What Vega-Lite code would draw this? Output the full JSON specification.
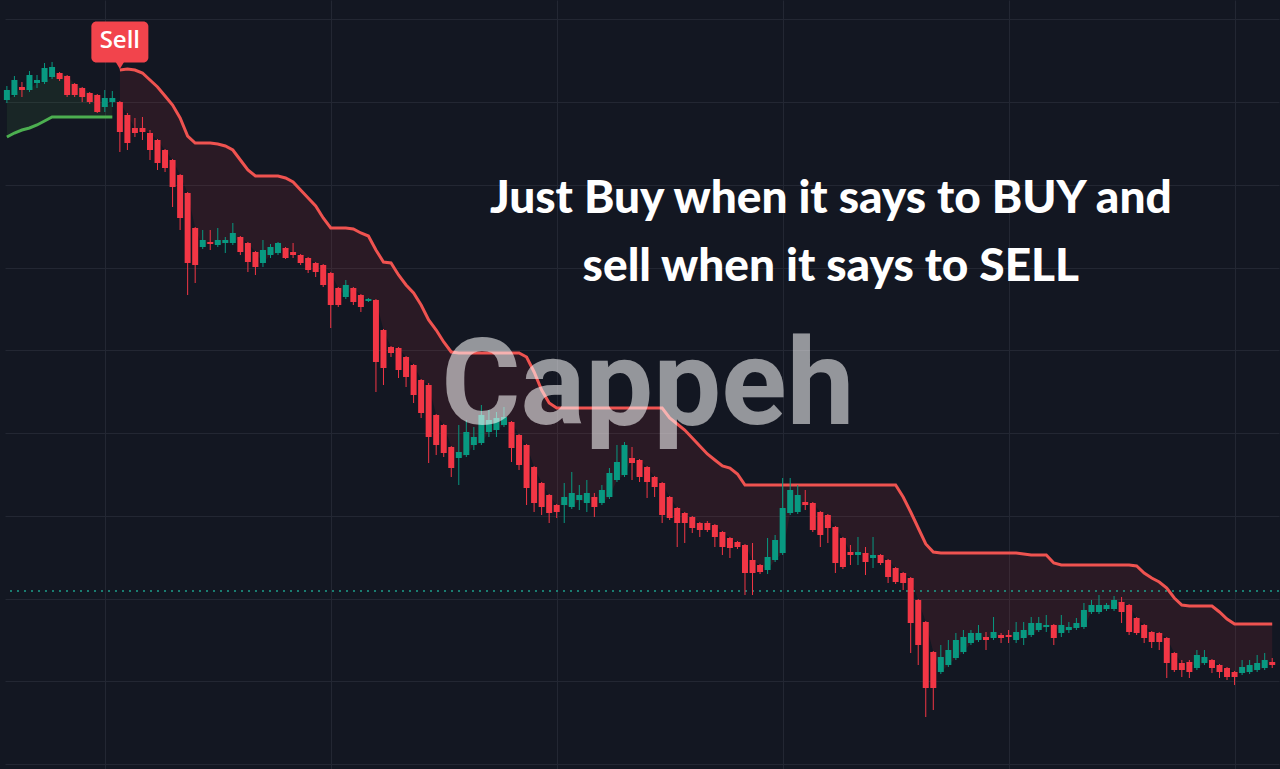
{
"$schema":"https://vega.github.io/schema/vega-lite/v6.json",
"width":1280,"height":769,"autosize":{"type":"fit","contains":"padding"},"padding":0,
"background":"#131722",
"config":{"view":{"stroke":null},"axis":{"minExtent":0,"maxExtent":0,"offset":0,"labels":false,"ticks":false,"domain":false,"title":null,"grid":true,"gridColor":"#232733","gridWidth":1}},
"datasets":{
"candles":[
{"t":0,"o":669,"h":683,"l":666,"c":679,"st":632,"trend":"up"},
{"t":1,"o":674,"h":693,"l":672,"c":689,"st":636,"trend":"up"},
{"t":2,"o":682,"h":687,"l":672,"c":679,"st":639,"trend":"up"},
{"t":3,"o":679,"h":698,"l":677,"c":694,"st":641,"trend":"up"},
{"t":4,"o":686,"h":694,"l":681,"c":689,"st":644,"trend":"up"},
{"t":5,"o":687,"h":706,"l":685,"c":701,"st":648,"trend":"up"},
{"t":6,"o":692,"h":707,"l":690,"c":702,"st":652,"trend":"up"},
{"t":7,"o":696,"h":697,"l":688,"c":690,"st":652,"trend":"up"},
{"t":8,"o":693,"h":694,"l":672,"c":674,"st":652,"trend":"up"},
{"t":9,"o":685,"h":686,"l":672,"c":674,"st":652,"trend":"up"},
{"t":10,"o":681,"h":682,"l":667,"c":672,"st":652,"trend":"up"},
{"t":11,"o":676,"h":677,"l":665,"c":667,"st":652,"trend":"up"},
{"t":12,"o":674,"h":675,"l":656,"c":657,"st":652,"trend":"up"},
{"t":13,"o":662,"h":679,"l":657,"c":671,"st":652,"trend":"up"},
{"t":14,"o":667,"h":678,"l":662,"c":671,"st":652,"trend":"up"},
{"t":15,"o":667,"h":668,"l":617,"c":637,"st":699,"trend":"down"},
{"t":16,"o":654,"h":656,"l":619,"c":626,"st":700,"trend":"down"},
{"t":17,"o":641,"h":651,"l":632,"c":636,"st":699,"trend":"down"},
{"t":18,"o":641,"h":652,"l":629,"c":637,"st":696,"trend":"down"},
{"t":19,"o":636,"h":639,"l":609,"c":619,"st":689,"trend":"down"},
{"t":20,"o":629,"h":630,"l":599,"c":606,"st":682,"trend":"down"},
{"t":21,"o":619,"h":620,"l":597,"c":601,"st":673,"trend":"down"},
{"t":22,"o":609,"h":610,"l":562,"c":582,"st":664,"trend":"down"},
{"t":23,"o":594,"h":595,"l":539,"c":551,"st":651,"trend":"down"},
{"t":24,"o":576,"h":577,"l":474,"c":506,"st":633,"trend":"down"},
{"t":25,"o":541,"h":542,"l":486,"c":504,"st":626,"trend":"down"},
{"t":26,"o":522,"h":539,"l":520,"c":529,"st":626,"trend":"down"},
{"t":27,"o":527,"h":539,"l":519,"c":525,"st":626,"trend":"down"},
{"t":28,"o":524,"h":541,"l":522,"c":529,"st":625,"trend":"down"},
{"t":29,"o":526,"h":532,"l":516,"c":529,"st":623,"trend":"down"},
{"t":30,"o":526,"h":546,"l":524,"c":536,"st":619,"trend":"down"},
{"t":31,"o":532,"h":533,"l":514,"c":517,"st":609,"trend":"down"},
{"t":32,"o":526,"h":527,"l":497,"c":507,"st":599,"trend":"down"},
{"t":33,"o":517,"h":518,"l":494,"c":502,"st":593,"trend":"down"},
{"t":34,"o":506,"h":529,"l":502,"c":519,"st":593,"trend":"down"},
{"t":35,"o":514,"h":525,"l":511,"c":522,"st":593,"trend":"down"},
{"t":36,"o":516,"h":527,"l":514,"c":526,"st":593,"trend":"down"},
{"t":37,"o":521,"h":522,"l":510,"c":511,"st":591,"trend":"down"},
{"t":38,"o":517,"h":526,"l":511,"c":514,"st":587,"trend":"down"},
{"t":39,"o":514,"h":515,"l":504,"c":506,"st":579,"trend":"down"},
{"t":40,"o":511,"h":512,"l":496,"c":499,"st":571,"trend":"down"},
{"t":41,"o":506,"h":507,"l":492,"c":497,"st":563,"trend":"down"},
{"t":42,"o":504,"h":505,"l":482,"c":484,"st":551,"trend":"down"},
{"t":43,"o":496,"h":497,"l":441,"c":464,"st":541,"trend":"down"},
{"t":44,"o":481,"h":482,"l":462,"c":464,"st":541,"trend":"down"},
{"t":45,"o":472,"h":489,"l":470,"c":484,"st":541,"trend":"down"},
{"t":46,"o":481,"h":482,"l":464,"c":467,"st":540,"trend":"down"},
{"t":47,"o":474,"h":475,"l":457,"c":462,"st":536,"trend":"down"},
{"t":48,"o":468,"h":471,"l":467,"c":470,"st":533,"trend":"down"},
{"t":49,"o":469,"h":470,"l":377,"c":407,"st":519,"trend":"down"},
{"t":50,"o":439,"h":440,"l":384,"c":401,"st":507,"trend":"down"},
{"t":51,"o":422,"h":423,"l":412,"c":416,"st":506,"trend":"down"},
{"t":52,"o":421,"h":422,"l":391,"c":399,"st":494,"trend":"down"},
{"t":53,"o":412,"h":413,"l":382,"c":392,"st":484,"trend":"down"},
{"t":54,"o":404,"h":405,"l":366,"c":374,"st":476,"trend":"down"},
{"t":55,"o":389,"h":390,"l":351,"c":356,"st":464,"trend":"down"},
{"t":56,"o":384,"h":386,"l":306,"c":332,"st":449,"trend":"down"},
{"t":57,"o":354,"h":355,"l":314,"c":324,"st":439,"trend":"down"},
{"t":58,"o":344,"h":345,"l":312,"c":316,"st":427,"trend":"down"},
{"t":59,"o":322,"h":323,"l":292,"c":301,"st":417,"trend":"down"},
{"t":60,"o":311,"h":344,"l":284,"c":317,"st":416,"trend":"down"},
{"t":61,"o":314,"h":349,"l":312,"c":337,"st":416,"trend":"down"},
{"t":62,"o":324,"h":342,"l":319,"c":332,"st":416,"trend":"down"},
{"t":63,"o":326,"h":364,"l":324,"c":354,"st":416,"trend":"down"},
{"t":64,"o":337,"h":359,"l":332,"c":349,"st":416,"trend":"down"},
{"t":65,"o":339,"h":357,"l":332,"c":351,"st":416,"trend":"down"},
{"t":66,"o":344,"h":362,"l":342,"c":352,"st":416,"trend":"down"},
{"t":67,"o":347,"h":348,"l":307,"c":321,"st":416,"trend":"down"},
{"t":68,"o":334,"h":335,"l":299,"c":304,"st":416,"trend":"down"},
{"t":69,"o":324,"h":325,"l":264,"c":281,"st":412,"trend":"down"},
{"t":70,"o":302,"h":303,"l":257,"c":266,"st":397,"trend":"down"},
{"t":71,"o":286,"h":287,"l":254,"c":262,"st":379,"trend":"down"},
{"t":72,"o":274,"h":275,"l":246,"c":256,"st":366,"trend":"down"},
{"t":73,"o":264,"h":265,"l":251,"c":257,"st":361,"trend":"down"},
{"t":74,"o":264,"h":286,"l":246,"c":272,"st":361,"trend":"down"},
{"t":75,"o":262,"h":297,"l":260,"c":276,"st":361,"trend":"down"},
{"t":76,"o":269,"h":284,"l":259,"c":274,"st":361,"trend":"down"},
{"t":77,"o":266,"h":289,"l":257,"c":276,"st":361,"trend":"down"},
{"t":78,"o":272,"h":276,"l":252,"c":262,"st":361,"trend":"down"},
{"t":79,"o":266,"h":284,"l":264,"c":279,"st":361,"trend":"down"},
{"t":80,"o":272,"h":301,"l":270,"c":296,"st":361,"trend":"down"},
{"t":81,"o":289,"h":324,"l":287,"c":307,"st":361,"trend":"down"},
{"t":82,"o":294,"h":327,"l":292,"c":324,"st":361,"trend":"down"},
{"t":83,"o":311,"h":322,"l":289,"c":306,"st":361,"trend":"down"},
{"t":84,"o":309,"h":310,"l":287,"c":292,"st":361,"trend":"down"},
{"t":85,"o":302,"h":303,"l":271,"c":287,"st":361,"trend":"down"},
{"t":86,"o":292,"h":293,"l":272,"c":282,"st":361,"trend":"down"},
{"t":87,"o":286,"h":287,"l":246,"c":254,"st":361,"trend":"down"},
{"t":88,"o":272,"h":273,"l":249,"c":251,"st":351,"trend":"down"},
{"t":89,"o":261,"h":262,"l":222,"c":246,"st":345,"trend":"down"},
{"t":90,"o":256,"h":257,"l":226,"c":246,"st":339,"trend":"down"},
{"t":91,"o":252,"h":253,"l":236,"c":241,"st":331,"trend":"down"},
{"t":92,"o":246,"h":247,"l":232,"c":239,"st":323,"trend":"down"},
{"t":93,"o":246,"h":248,"l":237,"c":239,"st":315,"trend":"down"},
{"t":94,"o":244,"h":245,"l":222,"c":232,"st":309,"trend":"down"},
{"t":95,"o":237,"h":238,"l":214,"c":222,"st":303,"trend":"down"},
{"t":96,"o":231,"h":232,"l":211,"c":221,"st":301,"trend":"down"},
{"t":97,"o":227,"h":228,"l":220,"c":222,"st":295,"trend":"down"},
{"t":98,"o":224,"h":225,"l":174,"c":196,"st":284,"trend":"down"},
{"t":99,"o":209,"h":226,"l":174,"c":196,"st":284,"trend":"down"},
{"t":100,"o":204,"h":205,"l":195,"c":197,"st":284,"trend":"down"},
{"t":101,"o":199,"h":231,"l":195,"c":212,"st":284,"trend":"down"},
{"t":102,"o":209,"h":234,"l":207,"c":229,"st":284,"trend":"down"},
{"t":103,"o":216,"h":291,"l":214,"c":261,"st":284,"trend":"down"},
{"t":104,"o":256,"h":291,"l":254,"c":279,"st":284,"trend":"down"},
{"t":105,"o":257,"h":284,"l":255,"c":274,"st":284,"trend":"down"},
{"t":106,"o":267,"h":279,"l":259,"c":264,"st":284,"trend":"down"},
{"t":107,"o":266,"h":267,"l":237,"c":239,"st":284,"trend":"down"},
{"t":108,"o":257,"h":258,"l":222,"c":234,"st":284,"trend":"down"},
{"t":109,"o":254,"h":255,"l":226,"c":241,"st":284,"trend":"down"},
{"t":110,"o":242,"h":243,"l":196,"c":206,"st":284,"trend":"down"},
{"t":111,"o":231,"h":232,"l":200,"c":202,"st":284,"trend":"down"},
{"t":112,"o":217,"h":224,"l":204,"c":214,"st":284,"trend":"down"},
{"t":113,"o":214,"h":232,"l":204,"c":217,"st":284,"trend":"down"},
{"t":114,"o":216,"h":222,"l":194,"c":207,"st":284,"trend":"down"},
{"t":115,"o":211,"h":232,"l":201,"c":214,"st":284,"trend":"down"},
{"t":116,"o":214,"h":215,"l":204,"c":206,"st":284,"trend":"down"},
{"t":117,"o":209,"h":210,"l":186,"c":192,"st":284,"trend":"down"},
{"t":118,"o":201,"h":202,"l":185,"c":187,"st":284,"trend":"down"},
{"t":119,"o":196,"h":197,"l":179,"c":186,"st":272,"trend":"down"},
{"t":120,"o":191,"h":192,"l":116,"c":146,"st":257,"trend":"down"},
{"t":121,"o":169,"h":170,"l":104,"c":124,"st":241,"trend":"down"},
{"t":122,"o":147,"h":148,"l":52,"c":81,"st":225,"trend":"down"},
{"t":123,"o":117,"h":118,"l":59,"c":81,"st":217,"trend":"down"},
{"t":124,"o":97,"h":124,"l":95,"c":112,"st":216,"trend":"down"},
{"t":125,"o":104,"h":129,"l":102,"c":119,"st":216,"trend":"down"},
{"t":126,"o":111,"h":136,"l":109,"c":129,"st":216,"trend":"down"},
{"t":127,"o":117,"h":139,"l":115,"c":132,"st":216,"trend":"down"},
{"t":128,"o":126,"h":139,"l":124,"c":136,"st":216,"trend":"down"},
{"t":129,"o":129,"h":144,"l":127,"c":136,"st":216,"trend":"down"},
{"t":130,"o":132,"h":137,"l":119,"c":129,"st":216,"trend":"down"},
{"t":131,"o":131,"h":152,"l":129,"c":137,"st":216,"trend":"down"},
{"t":132,"o":134,"h":136,"l":126,"c":131,"st":216,"trend":"down"},
{"t":133,"o":134,"h":139,"l":126,"c":132,"st":216,"trend":"down"},
{"t":134,"o":129,"h":147,"l":126,"c":137,"st":216,"trend":"down"},
{"t":135,"o":131,"h":147,"l":124,"c":139,"st":215,"trend":"down"},
{"t":136,"o":134,"h":152,"l":132,"c":146,"st":214,"trend":"down"},
{"t":137,"o":139,"h":152,"l":137,"c":146,"st":214,"trend":"down"},
{"t":138,"o":142,"h":154,"l":137,"c":144,"st":214,"trend":"down"},
{"t":139,"o":144,"h":145,"l":124,"c":131,"st":206,"trend":"down"},
{"t":140,"o":136,"h":154,"l":132,"c":144,"st":204,"trend":"down"},
{"t":141,"o":139,"h":147,"l":136,"c":142,"st":204,"trend":"down"},
{"t":142,"o":141,"h":151,"l":139,"c":146,"st":204,"trend":"down"},
{"t":143,"o":142,"h":166,"l":140,"c":159,"st":204,"trend":"down"},
{"t":144,"o":157,"h":169,"l":155,"c":164,"st":204,"trend":"down"},
{"t":145,"o":157,"h":174,"l":155,"c":164,"st":204,"trend":"down"},
{"t":146,"o":160,"h":166,"l":158,"c":164,"st":204,"trend":"down"},
{"t":147,"o":160,"h":173,"l":158,"c":169,"st":204,"trend":"down"},
{"t":148,"o":167,"h":172,"l":146,"c":157,"st":204,"trend":"down"},
{"t":149,"o":164,"h":165,"l":134,"c":137,"st":204,"trend":"down"},
{"t":150,"o":151,"h":152,"l":134,"c":136,"st":203,"trend":"down"},
{"t":151,"o":144,"h":145,"l":126,"c":131,"st":196,"trend":"down"},
{"t":152,"o":137,"h":138,"l":121,"c":127,"st":191,"trend":"down"},
{"t":153,"o":136,"h":137,"l":119,"c":127,"st":187,"trend":"down"},
{"t":154,"o":131,"h":132,"l":91,"c":106,"st":181,"trend":"down"},
{"t":155,"o":116,"h":117,"l":97,"c":99,"st":171,"trend":"down"},
{"t":156,"o":106,"h":109,"l":92,"c":99,"st":164,"trend":"down"},
{"t":157,"o":107,"h":109,"l":91,"c":97,"st":163,"trend":"down"},
{"t":158,"o":101,"h":119,"l":99,"c":114,"st":163,"trend":"down"},
{"t":159,"o":106,"h":119,"l":104,"c":112,"st":163,"trend":"down"},
{"t":160,"o":109,"h":110,"l":96,"c":101,"st":163,"trend":"down"},
{"t":161,"o":104,"h":105,"l":91,"c":97,"st":157,"trend":"down"},
{"t":162,"o":101,"h":102,"l":89,"c":92,"st":150,"trend":"down"},
{"t":163,"o":97,"h":98,"l":84,"c":92,"st":145,"trend":"down"},
{"t":164,"o":96,"h":109,"l":94,"c":102,"st":145,"trend":"down"},
{"t":165,"o":97,"h":109,"l":95,"c":104,"st":145,"trend":"down"},
{"t":166,"o":99,"h":114,"l":97,"c":106,"st":145,"trend":"down"},
{"t":167,"o":101,"h":116,"l":99,"c":109,"st":145,"trend":"down"},
{"t":168,"o":107,"h":111,"l":101,"c":104,"st":145,"trend":"down"}
],
"notes":[
{"kind":"watermark","t":85.1,"price":345,"label":"Cappeh"},
{"kind":"headline","t":109.4,"price":556,"label":"Just Buy when it says to BUY and"},
{"kind":"headline","t":109.4,"price":488,"label":"sell when it says to SELL"},
{"kind":"signal","t":15,"price":699,"label":"Sell"}
],
"lastprice":[{"price":178}]
},
"data":{"name":"candles"},
"encoding":{"x":{"field":"t","type":"quantitative","scale":{"domain":[-0.25,168.9],"nice":false,"zero":false,"padding":0},"axis":{"values":[13,43,73,103,133,163]}}},
"layer":[
{"transform":[{"filter":"datum.trend == 'up'"}],"mark":{"type":"area","color":"#4CAF50","opacity":0.1},"encoding":{"y":{"field":"st","type":"quantitative","scale":{"domain":[0,769],"nice":false,"zero":false,"padding":0},"axis":{"values":[5,87.75,170.5,253.25,336,418.75,501.5,584.25,667,749.75]}},"y2":{"field":"o"}}},
{"transform":[{"filter":"datum.trend == 'down'"}],"mark":{"type":"area","color":"#F23645","opacity":0.1},"encoding":{"y":{"field":"st","type":"quantitative"},"y2":{"field":"o"}}},
{"data":{"name":"lastprice"},"mark":{"type":"rule","color":"#1E9E8A","strokeDash":[2,5],"strokeWidth":1.5},"encoding":{"x":null,"y":{"field":"price","type":"quantitative"}}},
{"transform":[{"filter":"datum.trend == 'up'"}],"mark":{"type":"line","color":"#4CAF50","strokeWidth":3},"encoding":{"y":{"field":"st","type":"quantitative"}}},
{"transform":[{"filter":"datum.trend == 'down'"}],"mark":{"type":"line","color":"#EF5350","strokeWidth":3},"encoding":{"y":{"field":"st","type":"quantitative"}}},
{"mark":{"type":"rule","strokeWidth":1},"encoding":{"y":{"field":"l","type":"quantitative"},"y2":{"field":"h"},"color":{"condition":{"test":"datum.c >= datum.o","value":"#089981"},"value":"#F23645"}}},
{"mark":{"type":"bar","width":6},"encoding":{"y":{"field":"o","type":"quantitative"},"y2":{"field":"c"},"color":{"condition":{"test":"datum.c >= datum.o","value":"#089981"},"value":"#F23645"}}},
{"data":{"name":"notes"},"transform":[{"filter":"datum.kind == 'watermark'"}],"mark":{"type":"text","font":"Roboto","fontWeight":"bold","fontSize":121,"align":"center","baseline":"alphabetic","color":"#FFFFFF","opacity":0.55},"encoding":{"y":{"field":"price","type":"quantitative"},"text":{"field":"label"}}},
{"data":{"name":"notes"},"transform":[{"filter":"datum.kind == 'headline'"}],"mark":{"type":"text","font":"Lato","fontWeight":900,"fontSize":46,"align":"center","baseline":"alphabetic","color":"#FFFFFF"},"encoding":{"y":{"field":"price","type":"quantitative"},"text":{"field":"label"}}},
{"data":{"name":"notes"},"transform":[{"filter":"datum.kind == 'signal'"}],"mark":{"type":"rect","width":57,"height":41,"yOffset":-28,"cornerRadius":5,"color":"#F2444C"},"encoding":{"y":{"field":"price","type":"quantitative"}}},
{"data":{"name":"notes"},"transform":[{"filter":"datum.kind == 'signal'"}],"mark":{"type":"point","shape":"triangle-down","size":90,"filled":true,"opacity":1,"yOffset":-5,"color":"#F2444C"},"encoding":{"y":{"field":"price","type":"quantitative"}}},
{"data":{"name":"notes"},"transform":[{"filter":"datum.kind == 'signal'"}],"mark":{"type":"text","font":"Open Sans","fontWeight":600,"fontSize":24,"align":"center","baseline":"middle","yOffset":-29,"color":"#FFFFFF"},"encoding":{"y":{"field":"price","type":"quantitative"},"text":{"field":"label"}}}
]
}
